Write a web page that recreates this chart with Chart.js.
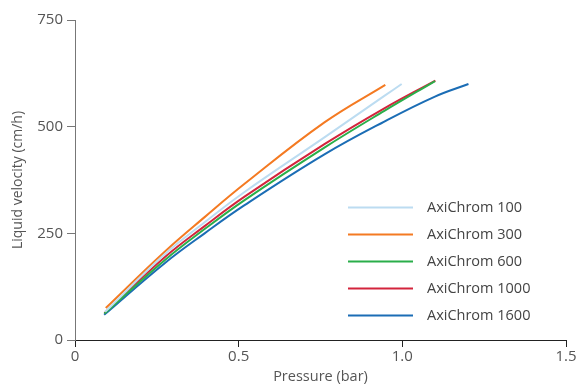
<!DOCTYPE html>
<html><head><meta charset="utf-8">
<script src="https://cdn.jsdelivr.net/npm/chart.js@4/dist/chart.umd.min.js"></script>
<style>html,body{margin:0;padding:0;background:#fff}#wrap{width:578px;height:386px}</style>
</head><body><div id="wrap"><canvas id="c" width="578" height="386"></canvas></div>
<script>
const seriesLabels = ['AxiChrom 100','AxiChrom 300','AxiChrom 600','AxiChrom 1000','AxiChrom 1600'];
const seriesColors = ['#BCDCF1','#F47A22','#2AAE4A','#D3243C','#1B6DB5'];
const p100 = [0.092,0.274,0.396,0.518,0.762,0.945,0.998];
const v100 = [66,201,276,347,475,572,600];
const p300 = [0.094,0.274,0.396,0.518,0.762,0.948];
const v300 = [75,207,288,366,510,598];
const p600 = [0.090,0.274,0.396,0.518,0.762,0.945,1.100];
const v600 = [62,187,260,328,451,537,607];
const p1000 = [0.090,0.274,0.396,0.518,0.762,0.945,1.101];
const v1000 = [63,194,267,336,459,543,608];
const p1600 = [0.089,0.274,0.396,0.518,0.762,0.945,1.098,1.202];
const v1600 = [59,180,250,316,435,512,570,600];
const xTicks = [0,0.5,1.0,1.5];
const yTicks = [0,250,500,750];

const px = [p100,p300,p600,p1000,p1600];
const vy = [v100,v300,v600,v1000,v1600];
const FONT = '"Open Sans", sans-serif';

const datasets = seriesLabels.map((l,i)=>({
  label:l,
  data: px[i].map((x,j)=>({x:x,y:vy[i][j]})),
  borderColor: seriesColors[i],
  backgroundColor: seriesColors[i],
  borderWidth: 2,
  pointRadius: 0,
  showLine: true,
  tension: 0.4,
  fill: false
}));

const legendPlugin = {
  id:'customLegend',
  afterDraw(chart){
    const ctx = chart.ctx;
    ctx.save();
    const x0 = 348, x1 = 413, tx = 427, y0 = 207.5, dy = 27;
    chart.data.datasets.forEach((ds,i)=>{
      const y = y0 + i*dy;
      ctx.strokeStyle = ds.borderColor;
      ctx.lineWidth = 2;
      ctx.beginPath(); ctx.moveTo(x0,y); ctx.lineTo(x1,y); ctx.stroke();
      ctx.fillStyle = '#444';
      ctx.font = '14.5px ' + FONT;
      ctx.textBaseline = 'middle';
      ctx.textAlign = 'left';
      ctx.fillText(ds.label, tx, y);
    });
    ctx.restore();
  }
};

new Chart(document.getElementById('c'), {
  type:'scatter',
  data:{datasets},
  options:{
    responsive:false,
    animation:false,
    layout:{padding:{left:0,right:12,top:20,bottom:0}},
    plugins:{legend:{display:false},tooltip:{enabled:false}},
    scales:{
      x:{
        type:'linear', min:0, max:1.5,
        afterBuildTicks(s){ s.ticks = xTicks.map(v=>({value:v})); },
        afterFit(s){ s.height = 46; },
        grid:{drawOnChartArea:false, drawTicks:true, tickLength:7, color:'#222', lineWidth:1},
        border:{display:true, color:'#222', width:1},
        ticks:{color:'#555', font:{family:FONT,size:15}, padding:1,
          callback:(v)=> v===0 ? '0' : v.toFixed(1) },
        title:{display:true, text:'Pressure (bar)', color:'#555', font:{family:FONT,size:14.5}, padding:{top:0,bottom:0}}
      },
      y:{
        type:'linear', min:0, max:750,
        afterBuildTicks(s){ s.ticks = yTicks.map(v=>({value:v})); },
        afterFit(s){ s.width = 75; },
        grid:{drawOnChartArea:false, drawTicks:true, tickLength:8, color:'#777', lineWidth:1},
        border:{display:true, color:'#777', width:1},
        ticks:{color:'#555', font:{family:FONT,size:15}, padding:4},
        title:{display:true, text:'Liquid velocity (cm/h)', color:'#555', font:{family:FONT,size:14}, padding:{top:10,bottom:4}}
      }
    }
  },
  plugins:[legendPlugin]
});
</script></body></html>
